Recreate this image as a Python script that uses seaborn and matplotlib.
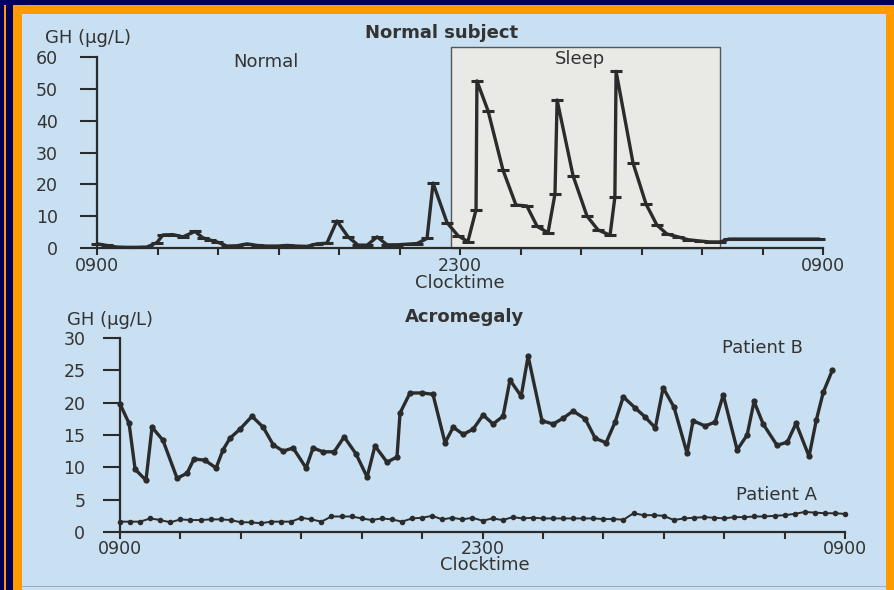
import numpy as np
import pandas as pd
import matplotlib
matplotlib.use("Agg")
import matplotlib.pyplot as plt
from matplotlib.patches import Rectangle
import seaborn as sns

# Normal subject: hours after 0900 and GH (ug/L)
normal_hours = [0.0, 0.33, 0.66, 0.99, 1.32, 1.65, 1.98, 2.18, 2.51, 2.84,
                3.24, 3.50, 3.74, 3.97, 4.30, 4.63, 4.96, 5.29, 5.62, 5.95,
                6.28, 6.61, 6.94, 7.27, 7.60, 7.93, 8.30, 8.63, 8.93, 9.26,
                9.59, 9.92, 10.25, 10.58, 10.91, 11.11, 11.57, 11.93, 12.26, 12.53,
                12.56, 12.93, 13.42, 13.85, 14.21, 14.55, 14.91, 15.14, 15.21, 15.74,
                16.20, 16.56, 16.96, 17.12, 17.16, 17.72, 18.15, 18.51, 18.84, 19.21,
                19.54, 19.93, 20.26, 20.60, 20.89, 21.22, 21.55, 21.88, 22.21, 22.54,
                22.87, 23.21, 23.54, 23.87]
normal_gh = [1.3, 0.8, 0.3, 0.2, 0.2, 0.3, 1.7, 4.1, 4.2, 3.5,
             5.2, 3.2, 2.5, 1.9, 0.6, 0.7, 1.3, 0.8, 0.6, 0.6,
             0.8, 0.6, 0.5, 1.3, 1.5, 8.5, 3.5, 0.9, 0.9, 3.5,
             1.0, 1.0, 1.2, 1.4, 3.0, 20.4, 8.0, 3.9, 2.0, 12.0,
             52.5, 43.0, 24.5, 13.5, 13.2, 6.8, 4.8, 17.0, 46.5, 22.6,
             10.0, 5.7, 4.0, 16.0, 55.5, 26.7, 13.8, 7.2, 4.4, 3.5,
             2.6, 2.2, 1.9, 1.9, 2.8, 2.8, 2.8, 2.8, 2.8, 2.8,
             2.8, 2.8, 2.8, 2.8]
sleep_start, sleep_end = 11.7, 20.6

# Acromegaly, patient B
b_hours = [0.0, 0.30, 0.50, 0.86, 1.06, 1.42, 1.89, 2.22, 2.45, 2.81,
           3.18, 3.41, 3.64, 3.97, 4.37, 4.74, 5.07, 5.40, 5.73, 6.16,
           6.39, 6.72, 7.09, 7.42, 7.81, 8.18, 8.44, 8.84, 9.17, 9.27,
           9.60, 10.00, 10.36, 10.76, 11.03, 11.36, 11.69, 12.02, 12.35, 12.68,
           12.91, 13.28, 13.51, 13.97, 14.34, 14.67, 15.00, 15.40, 15.73, 16.09,
           16.39, 16.66, 17.05, 17.38, 17.72, 17.98, 18.34, 18.77, 18.97, 19.37,
           19.70, 19.97, 20.43, 20.76, 20.99, 21.29, 21.75, 22.09, 22.38, 22.81,
           23.05, 23.28, 23.58]
b_gh = [19.8, 16.8, 9.7, 8.0, 16.2, 14.2, 8.3, 9.1, 11.3, 11.1,
        9.9, 12.7, 14.5, 15.9, 17.9, 16.2, 13.5, 12.5, 13.0, 9.9,
        13.0, 12.4, 12.4, 14.7, 12.1, 8.5, 13.3, 10.8, 11.6, 18.4,
        21.5, 21.5, 21.3, 13.8, 16.2, 15.1, 15.9, 18.1, 16.7, 17.9,
        23.5, 21.0, 27.2, 17.2, 16.7, 17.6, 18.7, 17.5, 14.5, 13.8,
        17.0, 20.9, 19.2, 17.8, 16.1, 22.3, 19.3, 12.2, 17.2, 16.4,
        17.0, 21.2, 12.7, 15.0, 20.2, 16.7, 13.4, 13.9, 16.8, 11.7,
        17.3, 21.6, 25.0]

# Acromegaly, patient A (every 20 min)
a_gh = [1.6, 1.6, 1.6, 2.1, 1.85, 1.5, 1.95, 1.85, 1.85, 1.95,
        1.95, 1.85, 1.5, 1.5, 1.35, 1.6, 1.6, 1.6, 2.2, 1.95,
        1.6, 2.4, 2.4, 2.4, 2.1, 1.85, 2.1, 1.95, 1.6, 2.1,
        2.2, 2.5, 1.95, 2.2, 1.95, 2.2, 1.75, 2.1, 1.85, 2.3,
        2.1, 2.2, 2.1, 2.1, 2.1, 2.1, 2.1, 2.1, 2.0, 2.0,
        1.9, 2.9, 2.6, 2.6, 2.5, 1.85, 2.1, 2.2, 2.3, 2.2,
        2.1, 2.3, 2.3, 2.4, 2.4, 2.5, 2.6, 2.8, 3.1, 3.0,
        2.9, 2.9, 2.8]
a_hours = [i / 3 for i in range(len(a_gh))]

tick_hours = list(range(0, 25, 2))
tick_text = ["0900" if h in (0, 24) else ("2300" if h == 12 else "") for h in tick_hours]

sns.set_style("ticks")
plt.rcParams["font.family"] = ["DejaVu Sans"]

NAVY = "#00005c"
ORANGE = "#ff9a00"
PAPER = "#c8e0f1"
INK = "#2b2b2b"
W, H = 894, 590

fig = plt.figure(figsize=(8.94, 5.90), dpi=100, facecolor=NAVY)

# slide frame
fig.add_artist(Rectangle((13 / W, 0), 1, 1 - 5 / H, transform=fig.transFigure,
                         facecolor=ORANGE, edgecolor="none", zorder=-10))
fig.add_artist(Rectangle((22 / W, 0), (886 - 22) / W, 1 - 14 / H, transform=fig.transFigure,
                         facecolor=PAPER, edgecolor="none", zorder=-9))
fig.add_artist(Rectangle((4 / W, 0), 1.5 / W, 1 - 5 / H, transform=fig.transFigure,
                         facecolor=ORANGE, edgecolor="none", zorder=-9))
# page edge of the scan near the bottom
fig.add_artist(Rectangle((22 / W, 3 / H), (886 - 22) / W, 1.5 / H, transform=fig.transFigure,
                         facecolor="#7f8c96", edgecolor="none", alpha=0.6, zorder=-8))


def px(x, y):
    return x / W, 1 - y / H


def style_axes(ax, ymax, yticks, ypad, xpad):
    ax.set_facecolor("none")
    sns.despine(ax=ax)
    for s in ("left", "bottom"):
        ax.spines[s].set_color(INK)
        ax.spines[s].set_linewidth(1.6)
    ax.set_xlim(0, 24)
    ax.set_ylim(0, ymax)
    ax.set_yticks(yticks)
    ax.set_xticks(tick_hours)
    ax.set_xticklabels(tick_text)
    ax.tick_params(axis="y", length=12, width=1.5, color=INK, pad=ypad,
                   labelsize=12.5, labelcolor="#333333")
    ax.tick_params(axis="x", length=5, width=1.5, color=INK, pad=xpad,
                   labelsize=12.5, labelcolor="#333333")
    ax.set_xlabel("")
    ax.set_ylabel("")


# ---- top: normal subject
ax1 = fig.add_axes([97 / W, 1 - 248 / H, (823 - 97) / W, 191 / H])
ax1.add_patch(Rectangle((sleep_start, 0), sleep_end - sleep_start, 63,
                        facecolor="#e9e9e6", edgecolor="#555555", linewidth=1.0,
                        clip_on=False, zorder=1))
df_normal = pd.DataFrame({"hour": normal_hours, "gh": normal_gh})
sns.lineplot(data=df_normal, x="hour", y="gh", ax=ax1, color=INK, linewidth=2.4,
             marker="_", markersize=8, markeredgewidth=2.2, markeredgecolor=INK,
             estimator=None, sort=False, clip_on=False, zorder=3)
style_axes(ax1, 60, range(0, 61, 10), 16, 1.5)

# ---- bottom: acromegaly
ax2 = fig.add_axes([120 / W, 1 - 532 / H, 725 / W, 194 / H])
df_b = pd.DataFrame({"hour": b_hours, "gh": b_gh})
df_a = pd.DataFrame({"hour": a_hours, "gh": a_gh})
sns.lineplot(data=df_b, x="hour", y="gh", ax=ax2, color=INK, linewidth=2.4,
             marker="o", markersize=4.5, markeredgewidth=0, markerfacecolor=INK,
             estimator=None, sort=False, clip_on=False, zorder=3)
sns.lineplot(data=df_a, x="hour", y="gh", ax=ax2, color=INK, linewidth=1.4,
             marker="o", markersize=4, markeredgewidth=0, markerfacecolor=INK,
             estimator=None, sort=False, clip_on=False, zorder=3)
style_axes(ax2, 30, range(0, 31, 5), 13, 0.5)

# ---- texts
txt = dict(color="#333333", fontsize=13, ha="center", va="center")
fig.text(*px(442, 33), "Normal subject", fontweight="bold", **txt)
fig.text(*px(88, 38), "GH (µg/L)", **txt)
fig.text(*px(266, 62), "Normal", **txt)
fig.text(*px(580, 59), "Sleep", **txt)
fig.text(*px(460, 283), "Clocktime", **txt)

fig.text(*px(465, 317), "Acromegaly", fontweight="bold", **txt)
fig.text(*px(110, 320), "GH (µg/L)", **txt)
fig.text(*px(762, 348), "Patient B", **txt)
fig.text(*px(776, 495), "Patient A", **txt)
fig.text(*px(485, 565), "Clocktime", **txt)

fig.savefig("out.png", dpi=100, facecolor=NAVY)
